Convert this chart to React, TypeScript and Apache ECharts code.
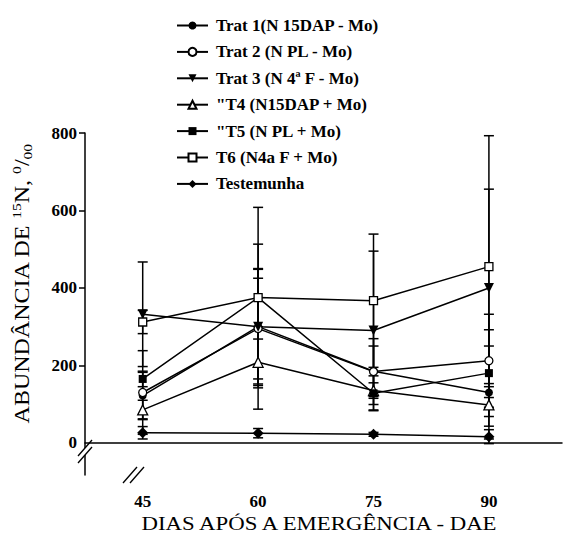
import React, { useEffect, useRef } from "react";
import * as echarts from "echarts";

const days = [45, 60, 75, 90];
const xTicks = [45, 60, 75, 90];
const yTicks = [0, 200, 400, 600, 800];

const seriesNames = [
  "Trat 1(N 15DAP - Mo)",
  "Trat 2 (N PL - Mo)",
  "Trat 3 (N 4ª F - Mo)",
  "\"T4 (N15DAP + Mo)",
  "\"T5 (N PL + Mo)",
  "T6 (N4a F + Mo)",
  "Testemunha",
];

const trat1 = [122, 300, 185, 130];
const trat2 = [130, 295, 184, 212];
const trat3 = [332, 300, 290, 400];
const t4 = [85, 208, 135, 98];
const t5 = [165, 375, 128, 180];
const t6 = [312, 375, 367, 455];
const testemunha = [26, 25, 22, 16];

const errTrat1 = [60, 213, 65, 120];
const errTrat2 = [108, 130, 85, 120];
const errTrat3 = [135, 148, 205, 255];
const errT4 = [25, 60, 20, 55];
const errT5 = [20, 75, 45, 112];
const errT6 = [30, 233, 172, 338];
const errTest = [16, 12, 5, 18];

const FONT = "'Liberation Serif', 'DejaVu Serif', serif";

export default function App() {
  const ref = useRef<HTMLDivElement>(null);
  useEffect(() => {
    document.body.style.margin = "0";
    const chart = echarts.init(ref.current!, null, { renderer: "svg" });

    const values = [trat1, trat2, trat3, t4, t5, t6, testemunha];
    const errs = [errTrat1, errTrat2, errTrat3, errT4, errT5, errT6, errTest];
    const symbols = ["circle", "circle", "triangle", "triangle", "rect", "rect", "diamond"];
    const sizes = [8, 8, 10, 10, 8, 8, 11];
    const rotates = [0, 0, 180, 0, 0, 0, 0];
    const filled = [true, false, true, false, true, false, true];

    const lineSeries = values.map((vals, si) => ({
      name: seriesNames[si],
      type: "line",
      z: 3,
      data: days.map((d, i) => [d, vals[i]]),
      symbol: symbols[si],
      symbolSize: sizes[si],
      symbolRotate: rotates[si],
      showSymbol: true,
      lineStyle: { color: "#000", width: 1.5 },
      itemStyle: {
        color: filled[si] ? "#000" : "#fff",
        borderColor: "#000",
        borderWidth: filled[si] ? 0 : 1.3,
      },
    }));

    const errSeries = values.map((vals, si) => ({
      type: "custom",
      z: 2,
      silent: true,
      encode: { x: 0, y: [1, 2] },
      data: days.map((d, i) => [d, vals[i] - errs[si][i], vals[i] + errs[si][i]]),
      renderItem: (params: any, api: any) => {
        const x = api.value(0);
        const lo = api.coord([x, api.value(1)]);
        const hi = api.coord([x, api.value(2)]);
        const w = 5;
        const st = { stroke: "#000", lineWidth: 1.5 };
        return {
          type: "group",
          children: [
            { type: "line", shape: { x1: lo[0], y1: lo[1], x2: hi[0], y2: hi[1] }, style: st },
            { type: "line", shape: { x1: lo[0] - w, y1: lo[1], x2: lo[0] + w, y2: lo[1] }, style: st },
            { type: "line", shape: { x1: hi[0] - w, y1: hi[1], x2: hi[0] + w, y2: hi[1] }, style: st },
          ],
        };
      },
    }));

    const slash = (cx: number, cy: number, dx: number, dy: number) => ({
      type: "line",
      shape: { x1: cx - 7 + dx, y1: cy + 8 + dy, x2: cx + 7 + dx, y2: cy - 8 + dy },
      style: { stroke: "#000", lineWidth: 1.3 },
      z: 100,
    });

    chart.setOption({
      animation: false,
      grid: { left: 85, right: 2, top: 133, bottom: 61, containLabel: false },
      legend: {
        orient: "vertical",
        left: 171,
        top: 12,
        itemWidth: 31,
        itemHeight: 10,
        itemGap: 9.4,
        data: seriesNames,
        textStyle: {
          fontFamily: FONT,
          fontWeight: "bold",
          fontSize: 17,
          color: "#000",
          padding: [0, 0, 0, 3],
        },
      },
      xAxis: {
        type: "value",
        min: 37.5,
        max: 99.5,
        splitLine: { show: false },
        axisTick: { show: false },
        axisLine: { lineStyle: { color: "#000", width: 1.5 } },
        axisLabel: {
          customValues: xTicks,
          margin: 18,
          fontFamily: FONT,
          fontWeight: "bold",
          fontSize: 17,
          color: "#000",
        },
      },
      yAxis: {
        type: "value",
        min: -83,
        max: 800,
        splitLine: { show: false },
        axisLine: { show: true, lineStyle: { color: "#000", width: 1.5 } },
        axisTick: {
          show: true,
          customValues: [200, 400, 600, 800],
          length: 6,
          lineStyle: { color: "#000", width: 1.5 },
        },
        axisLabel: {
          customValues: yTicks,
          margin: 8,
          fontFamily: FONT,
          fontWeight: "bold",
          fontSize: 17,
          color: "#000",
        },
      },
      graphic: [
        {
          type: "text",
          x: 22,
          y: 284,
          rotation: Math.PI / 2,
          scaleX: 1.2,
          style: {
            text: "{a|ABUNDÂNCIA DE }{s|15}{a|N, }{s|0}{a|/}{b|00}",
            align: "center",
            verticalAlign: "middle",
            fill: "#000",
            rich: {
              a: { fontFamily: FONT, fontSize: 20, lineHeight: 24, fill: "#000" },
              s: { fontFamily: FONT, fontSize: 13, lineHeight: 24, verticalAlign: "top", fill: "#000" },
              b: { fontFamily: FONT, fontSize: 13, lineHeight: 24, verticalAlign: "bottom", fill: "#000" },
            },
          },
        },
        {
          type: "text",
          x: 319,
          y: 524,
          scaleX: 1.2,
          style: {
            text: "DIAS APÓS A EMERGÊNCIA - DAE",
            align: "center",
            verticalAlign: "middle",
            fontFamily: FONT,
            fontSize: 19,
            fill: "#000",
          },
        },
        { type: "rect", shape: { x: 80, y: 448, width: 10, height: 7 }, style: { fill: "#fff" }, z: 99 },
        slash(85, 451, 0, -3),
        slash(85, 451, 0, 4),
        { type: "rect", shape: { x: 130, y: 470, width: 7, height: 10 }, style: { fill: "#fff" }, z: 99 },
        slash(133, 475, -3, 0),
        slash(133, 475, 4, 0),
      ],
      series: [...errSeries, ...lineSeries],
    });
    return () => chart.dispose();
  }, []);
  return <div ref={ref} style={{ width: 564, height: 536 }} />;
}
